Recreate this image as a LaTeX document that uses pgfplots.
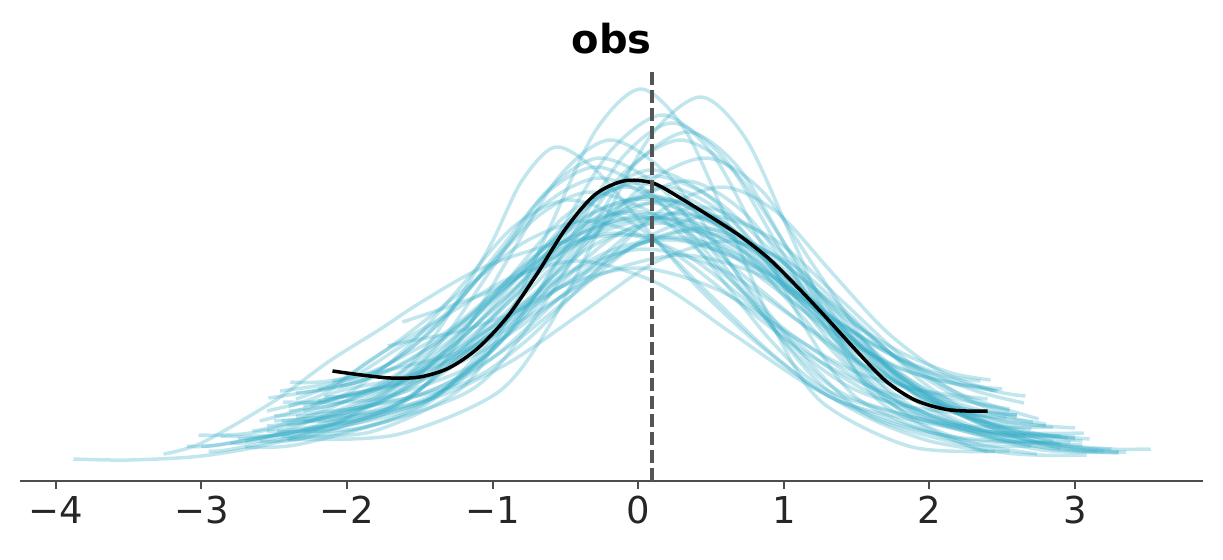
\documentclass[border=0pt]{standalone}
\usepackage{pgfplots}
\pgfplotsset{compat=1.18}
\usepackage{fontspec}
\setmainfont{DejaVu Sans}
\definecolor{ppblue}{HTML}{36ACC6}
\definecolor{axgray}{HTML}{4D4D4D}
\definecolor{lblgray}{HTML}{262626}
\definecolor{dashgray}{HTML}{555555}
\begin{document}
\begin{tikzpicture}
\begin{axis}[
  at={(0,0)}, anchor=south west,
  width=591.5pt, height=205.5pt, scale only axis,
  xmin=-4.246, xmax=3.879, ymin=0, ymax=411,
  hide y axis,
  axis x line*=bottom,
  axis line style={draw=axgray, line width=1pt},
  xtick={-4,-3,-2,-1,0,1,2,3},
  xticklabels={−4,−3,−2,−1,0,1,2,3},
  tick align=outside,
  major tick length=4pt,
  xtick style={draw=axgray, line width=1pt},
  xticklabel style={font=\fontsize{18.5}{20}\selectfont, text=lblgray},
  clip=false,
  pp/.style={ppblue, line width=1.75pt, opacity=0.3, smooth, mark=none},
]
\addplot[pp] coordinates {(-2.45,45) (-1.84,49) (-1.22,92) (-0.91,158) (-0.60,256) (-0.29,351) (0.02,392) (0.33,349) (0.64,250) (0.95,148) (1.26,79) (1.88,34) (2.55,30)};
\addplot[pp] coordinates {(-2.40,42) (-1.67,46) (-0.97,88) (-0.62,153) (-0.27,250) (0.08,344) (0.43,384) (0.74,342) (1.05,245) (1.36,145) (1.67,78) (2.29,34) (2.45,30)};
\addplot[pp] coordinates {(-2.30,60) (-1.99,63) (-1.27,101) (-0.91,159) (-0.55,246) (-0.19,330) (0.17,366) (0.51,327) (0.85,236) (1.19,143) (1.53,80) (2.21,39) (2.70,35)};
\addplot[pp] coordinates {(-2.44,79) (-1.80,82) (-1.12,117) (-0.78,170) (-0.44,248) (-0.10,325) (0.24,358) (0.60,321) (0.96,235) (1.32,147) (1.68,87) (2.40,48) (2.66,45)};
\addplot[pp] coordinates {(-2.55,50) (-1.91,53) (-1.16,90) (-0.79,147) (-0.41,231) (-0.04,314) (0.34,349) (0.69,313) (1.04,228) (1.39,140) (1.74,82) (2.44,43) (2.85,40)};
\addplot[pp] coordinates {(-2.20,60) (-1.66,72) (-1.27,98) (-0.88,151) (-0.49,231) (-0.10,308) (0.29,341) (0.67,308) (1.04,230) (1.42,151) (1.79,97) (2.17,71) (2.71,59)};
\addplot[pp] coordinates {(-2.16,84) (-1.95,86) (-1.70,100) (-1.45,135) (-1.20,190) (-1.00,240) (-0.80,300) (-0.57,334) (-0.30,312) (0.00,262) (0.40,195) (0.80,140) (1.20,95) (1.60,62) (2.00,40) (2.40,30)};
\addplot[pp] coordinates {(-2.60,40) (-2.29,43) (-1.59,81) (-1.24,138) (-0.89,223) (-0.54,305) (-0.19,341) (0.21,305) (0.61,222) (1.01,137) (1.41,80) (2.21,42) (2.97,39)};
\addplot[pp] coordinates {(-2.39,99) (-2.08,101) (-1.23,129) (-0.81,172) (-0.38,235) (0.05,297) (0.47,323) (0.85,290) (1.22,212) (1.60,132) (1.97,78) (2.35,52) (2.60,45)};
\addplot[pp] coordinates {(-2.50,60) (-2.06,67) (-1.70,91) (-1.34,142) (-0.98,218) (-0.62,291) (-0.26,323) (0.17,291) (0.59,215) (1.02,137) (1.44,85) (2.29,51) (3.06,48)};
\addplot[pp] coordinates {(-2.70,34) (-2.32,37) (-1.52,71) (-1.12,124) (-0.72,202) (-0.32,278) (0.08,311) (0.48,285) (0.88,224) (1.28,162) (1.68,120) (2.08,100) (2.47,90)};
\addplot[pp] coordinates {(-2.46,90) (-2.03,100) (-1.68,120) (-1.33,163) (-0.98,226) (-0.63,288) (-0.28,314) (0.12,283) (0.52,212) (0.92,139) (1.32,89) (2.12,57) (2.85,54)};
\addplot[pp] coordinates {(-2.41,56) (-2.03,67) (-1.60,90) (-1.18,137) (-0.75,207) (-0.33,276) (0.10,305) (0.53,281) (0.95,225) (1.38,167) (1.80,129) (2.15,108) (2.42,101)};
\addplot[pp] coordinates {(-2.87,45) (-2.37,48) (-1.47,79) (-1.02,128) (-0.57,200) (-0.12,270) (0.33,300) (0.73,268) (1.13,193) (1.53,117) (1.93,66) (2.73,32) (3.35,29)};
\addplot[pp] coordinates {(-2.54,83) (-2.14,93) (-1.76,113) (-1.39,155) (-1.01,217) (-0.64,277) (-0.26,303) (0.17,275) (0.59,209) (1.02,141) (1.44,95) (1.87,74) (2.53,63)};
\addplot[pp] coordinates {(-2.30,70) (-2.00,80) (-1.60,101) (-1.20,144) (-0.80,208) (-0.40,271) (0.00,298) (0.45,274) (0.90,219) (1.35,162) (1.80,123) (2.10,106) (2.35,100)};
\addplot[pp] coordinates {(-3.02,46) (-2.62,49) (-1.77,79) (-1.35,127) (-0.92,197) (-0.50,265) (-0.07,294) (0.36,262) (0.78,189) (1.21,113) (1.63,62) (2.48,29) (3.08,26)};
\addplot[pp] coordinates {(-2.41,41) (-1.93,52) (-1.50,75) (-1.08,123) (-0.65,195) (-0.23,264) (0.20,294) (0.63,262) (1.05,188) (1.48,112) (1.90,61) (2.33,37) (2.74,27)};
\addplot[pp] coordinates {(-2.35,65) (-2.13,68) (-1.23,96) (-0.78,139) (-0.33,204) (0.12,267) (0.57,294) (0.95,269) (1.32,210) (1.70,150) (2.07,110) (2.45,90) (2.66,85)};
\addplot[pp] coordinates {(-2.10,100) (-1.95,105) (-1.72,126) (-1.37,161) (-1.02,215) (-0.67,267) (-0.32,289) (0.13,265) (0.58,208) (1.03,149) (1.48,110) (1.93,91) (2.40,82)};
\addplot[pp] coordinates {(-3.00,35) (-2.80,38) (-1.80,68) (-1.30,115) (-0.80,184) (-0.30,252) (0.20,281) (0.65,252) (1.10,183) (1.55,113) (2.00,66) (2.90,35) (3.52,32)};
\addplot[pp] coordinates {(-2.60,60) (-2.35,70) (-1.97,90) (-1.60,132) (-1.22,194) (-0.85,255) (-0.47,281) (0.01,253) (0.48,188) (0.96,122) (1.43,77) (2.38,48) (2.90,45)};
\addplot[pp] coordinates {(-2.25,75) (-2.03,84) (-1.60,102) (-1.18,141) (-0.75,198) (-0.33,254) (0.10,278) (0.58,251) (1.05,188) (1.53,124) (2.00,81) (2.48,60) (3.00,53)};
\addplot[pp] coordinates {(-2.48,50) (-1.95,60) (-1.47,80) (-1.00,123) (-0.52,186) (-0.05,248) (0.43,274) (0.86,246) (1.28,182) (1.71,116) (2.13,72) (2.56,50) (3.10,42)};
\addplot[pp] coordinates {(-2.05,95) (-1.90,100) (-1.70,118) (-1.30,151) (-0.90,200) (-0.50,248) (-0.10,268) (0.38,245) (0.85,190) (1.33,134) (1.80,97) (2.28,79) (2.55,72)};
\addplot[pp] coordinates {(-2.80,38) (-2.57,41) (-1.62,69) (-1.15,113) (-0.67,178) (-0.20,241) (0.28,268) (0.73,243) (1.18,184) (1.63,124) (2.08,84) (2.53,64) (2.80,57)};
\addplot[pp] coordinates {(-2.35,82) (-2.05,100) (-1.63,142) (-1.20,191) (-0.78,239) (-0.35,260) (0.15,237) (0.65,183) (1.15,128) (1.65,91) (2.15,74) (2.60,66)};
\addplot[pp] coordinates {(-3.10,35) (-2.85,37) (-1.85,65) (-1.35,107) (-0.85,170) (-0.35,232) (0.15,258) (0.65,231) (1.15,168) (1.65,104) (2.15,61) (2.65,40) (3.25,32)};
\addplot[pp] coordinates {(-2.20,80) (-1.95,88) (-1.47,103) (-1.00,136) (-0.52,185) (-0.05,233) (0.43,253) (0.88,230) (1.33,177) (1.78,123) (2.23,86) (2.75,62)};
\addplot[pp] coordinates {(-1.72,135) (-1.60,139) (-1.20,151) (-0.80,172) (-0.40,205) (0.00,236) (0.40,250) (0.88,225) (1.35,165) (1.83,105) (2.30,64) (2.90,37)};
\addplot[pp] coordinates {(-1.62,159) (-1.35,172) (-0.98,192) (-0.60,222) (-0.23,250) (0.15,262) (0.65,236) (1.15,175) (1.65,112) (2.15,70) (2.65,50) (3.00,42)};
\addplot[pp] coordinates {(-2.65,50) (-2.45,56) (-2.05,77) (-1.58,114) (-1.10,170) (-0.63,225) (-0.15,248) (0.35,224) (0.85,167) (1.35,109) (1.85,70) (2.35,51) (2.95,43)};
\addplot[pp] coordinates {(-2.45,60) (-1.88,68) (-1.38,84) (-0.88,119) (-0.38,169) (0.12,219) (0.62,240) (1.07,215) (1.52,157) (1.97,97) (2.42,57) (2.87,37) (3.30,29)};
\addplot[pp] coordinates {(-3.88,22) (-3.50,21) (-3.00,25) (-2.50,38) (-2.00,63) (-1.50,102) (-1.00,155) (-0.50,207) (-0.10,235) (0.30,240) (0.80,215) (1.30,165) (1.80,105) (2.30,60) (2.80,36) (3.15,30)};
\addplot[pp] coordinates {(-2.30,50) (-2.10,56) (-1.85,75) (-1.38,109) (-0.90,160) (-0.43,211) (0.05,232) (0.58,211) (1.10,160) (1.63,109) (2.15,75) (2.50,60) (2.80,55)};
\addplot[pp] coordinates {(-2.55,70) (-2.33,77) (-1.80,91) (-1.28,121) (-0.75,165) (-0.23,208) (0.30,226) (0.80,208) (1.30,165) (1.80,121) (2.30,91) (2.65,78)};
\addplot[pp] coordinates {(-2.40,75) (-2.15,88) (-1.83,122) (-1.35,163) (-0.88,203) (-0.40,220) (0.13,198) (0.65,147) (1.18,95) (1.70,60) (2.23,43) (3.05,36)};
\addplot[pp] coordinates {(-2.70,40) (-2.50,46) (-2.20,63) (-1.65,96) (-1.10,145) (-0.55,193) (0.00,213) (0.55,191) (1.10,141) (1.65,89) (2.20,55) (2.60,38) (2.90,32)};
\addplot[pp] coordinates {(-2.15,85) (-2.00,92) (-1.55,106) (-1.10,137) (-0.65,182) (-0.20,225) (0.25,244) (0.70,225) (1.15,182) (1.60,137) (2.05,106) (2.45,90)};
\addplot[pp] coordinates {(-2.50,65) (-1.88,74) (-1.40,92) (-0.93,130) (-0.45,186) (0.03,241) (0.50,265) (0.95,240) (1.40,180) (1.85,120) (2.30,79) (2.60,64)};
\addplot[pp] coordinates {(-2.95,30) (-2.75,33) (-1.80,64) (-1.33,113) (-0.85,185) (-0.38,255) (0.10,285) (0.55,255) (1.00,185) (1.45,113) (1.90,64) (2.80,33) (3.20,30)};
\addplot[pp] coordinates {(-2.30,75) (-2.05,84) (-1.65,101) (-1.25,138) (-0.85,193) (-0.45,247) (-0.05,270) (0.43,248) (0.90,197) (1.38,145) (1.85,110) (2.20,97) (2.50,92)};
\addplot[pp] coordinates {(-3.26,27) (-3.00,38) (-2.50,80) (-2.12,120) (-1.77,152) (-1.50,178) (-1.09,212) (-0.60,236) (-0.10,246) (0.40,238) (0.90,205) (1.40,150) (1.90,95) (2.40,55) (2.90,33) (3.30,28)};
\addplot[pp] coordinates {(-2.40,70) (-2.10,76) (-1.70,98) (-1.30,140) (-0.90,196) (-0.50,250) (-0.10,280) (0.30,276) (0.70,240) (1.10,188) (1.50,132) (1.90,88) (2.30,62) (2.70,52)};
\addplot[pp] coordinates {(-2.55,55) (-2.20,62) (-1.80,84) (-1.40,124) (-1.00,180) (-0.55,236) (-0.10,262) (0.35,258) (0.80,222) (1.25,168) (1.70,112) (2.15,72) (2.60,50) (3.00,44)};
\addplot[pp] coordinates {(-2.35,88) (-2.05,94) (-1.70,112) (-1.35,142) (-0.95,190) (-0.50,240) (0.00,266) (0.45,262) (0.90,228) (1.35,176) (1.80,120) (2.20,84) (2.55,70)};
\addplot[pp] coordinates {(-2.75,42) (-2.40,48) (-2.00,66) (-1.55,102) (-1.10,158) (-0.60,222) (-0.15,258) (0.30,262) (0.75,234) (1.20,180) (1.65,120) (2.10,74) (2.55,48) (3.05,40)};
\addplot[pp] coordinates {(-2.20,92) (-1.95,98) (-1.60,118) (-1.20,160) (-0.80,214) (-0.40,262) (0.05,284) (0.50,266) (0.95,214) (1.40,150) (1.85,98) (2.25,72) (2.60,66)};
% observed
\addplot[black, line width=1.75pt, smooth, mark=none] coordinates {(-2.10,110) (-1.90,106) (-1.70,103) (-1.50,104) (-1.30,113) (-1.10,133) (-0.90,164) (-0.70,206) (-0.50,252) (-0.30,286) (-0.10,300) (0.10,298) (0.30,282) (0.50,264) (0.70,245) (0.90,222) (1.10,193) (1.30,162) (1.50,130) (1.70,100) (1.90,81) (2.10,72) (2.25,70) (2.40,70)};
% mean of observed
\addplot[dashgray, line width=1.8pt, dash pattern=on 6.5pt off 2.5pt, mark=none] coordinates {(0.096,0) (0.096,411)};
\node[anchor=base, font=\fontsize{20}{24}\selectfont\bfseries, text=black] at (rel axis cs:0.5,1) [yshift=8.5pt] {obs};
\end{axis}
\pgfresetboundingbox
\path[use as bounding box] (-10pt,-39pt) rectangle (601.5pt,240.5pt);
\end{tikzpicture}
\end{document}
